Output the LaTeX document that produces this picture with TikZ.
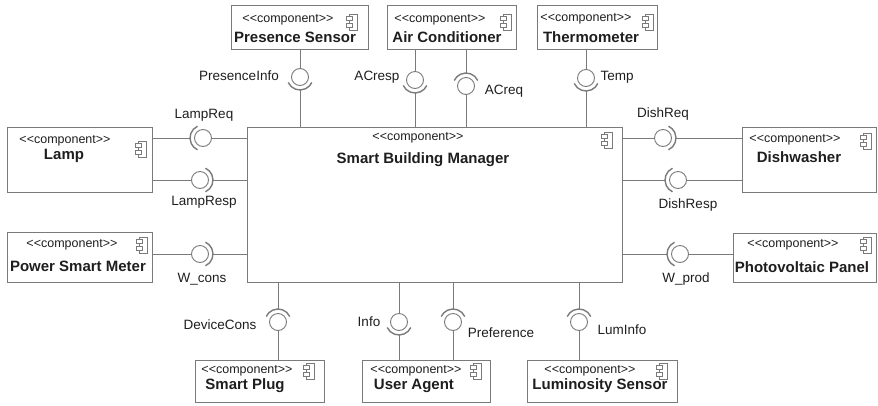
\documentclass[tikz,border=0pt]{standalone}
\usepackage{fontspec}
\setmainfont{Liberation Sans}
\usetikzlibrary{calc}
\definecolor{edge}{HTML}{7A7A7A}
\definecolor{txt}{HTML}{1E1E1E}
\newcommand{\stc}{<{}<component>{}>}
\tikzset{
  box/.style={draw=edge, line width=1pt, anchor=north west, inner sep=0pt},
  wire/.style={draw=edge, line width=0.9pt},
  ball/.style={circle, draw=edge, line width=0.9pt, minimum size=17pt, inner sep=0pt},
  sock/.style={draw=edge, line width=1.4pt},
  stereo/.style={font=\fontsize{12.5}{14}\selectfont, text=txt, inner sep=0pt},
  cname/.style={font=\bfseries\fontsize{15}{16}\selectfont, text=txt, inner sep=0pt},
  lbl/.style={font=\fontsize{13.5}{14}\selectfont, text=txt, inner sep=0pt},
  compicon/.pic={
    \draw[edge, line width=0.8pt] (-2.5pt,-8pt) rectangle (5.5pt,8pt);
    \draw[edge, line width=0.8pt, fill=white] (-5.5pt,-5.5pt) rectangle (0.5pt,-1.5pt)
                                              (-5.5pt,1.5pt) rectangle (0.5pt,5.5pt);
  }
}
\newcommand{\sockup}[1]{\draw[sock] ($(#1)+(25:13pt)$) arc[start angle=25, end angle=155, radius=13pt];}
\newcommand{\sockdown}[1]{\draw[sock] ($(#1)+(205:13pt)$) arc[start angle=205, end angle=335, radius=13pt];}
\newcommand{\sockleft}[1]{\draw[sock] ($(#1)+(115:13pt)$) arc[start angle=115, end angle=245, radius=13pt];}
\newcommand{\sockright}[1]{\draw[sock] ($(#1)+(-65:13pt)$) arc[start angle=-65, end angle=65, radius=13pt];}
\begin{document}
\begin{tikzpicture}[x=1pt, y=-1pt]
\useasboundingbox (0,0) rectangle (878,405);

% ---------- boxes ----------
\node[box, minimum width=375pt, minimum height=155pt] (main) at (247,127) {};
\node[box, minimum width=137pt, minimum height=44pt] (ps) at (231,5) {};
\node[box, minimum width=129pt, minimum height=44pt] (ac) at (387,5) {};
\node[box, minimum width=120pt, minimum height=44pt] (th) at (537,5) {};
\node[box, minimum width=145pt, minimum height=65pt] (lamp) at (7,127) {};
\node[box, minimum width=134pt, minimum height=65pt] (dish) at (742,127) {};
\node[box, minimum width=145pt, minimum height=50pt] (psm) at (7,232) {};
\node[box, minimum width=143pt, minimum height=49pt] (pv) at (733,233) {};
\node[box, minimum width=129pt, minimum height=42pt] (sp) at (195,360) {};
\node[box, minimum width=128pt, minimum height=42pt] (ua) at (362,360) {};
\node[box, minimum width=150pt, minimum height=42pt] (ls) at (527,360) {};

% ---------- box texts ----------
\node[stereo] (mainst) at (418,138) {\stc};
\node[cname] (mainnm) at (423,160) {Smart Building Manager};
\pic at (607,140) {compicon};

\node[stereo] (psst) at (288,20) {\stc};
\node[cname] (psnm) at (295,37) {Presence Sensor};
\pic at (352,22) {compicon};

\node[stereo] (acst) at (440,20) {\stc};
\node[cname] (acnm) at (447,37) {Air Conditioner};
\pic at (506,22) {compicon};

\node[stereo] (thst) at (586,19) {\stc};
\node[cname] (thnm) at (591,37) {Thermometer};
\pic at (648,22) {compicon};

\node[stereo] (lampst) at (65,141) {\stc};
\node[cname] (lampnm) at (64,156) {Lamp};
\pic at (141,149) {compicon};

\node[stereo] (dishst) at (795,140) {\stc};
\node[cname] (dishnm) at (799,157) {Dishwasher};
\pic at (866,141) {compicon};

\node[stereo] (psmst) at (72,245) {\stc};
\node[cname] (psmnm) at (78,266) {Power Smart Meter};
\pic at (142,245) {compicon};

\node[stereo] (pvst) at (793,245) {\stc};
\node[cname] (pvnm) at (802,267) {Photovoltaic Panel};
\pic at (866,245) {compicon};

\node[stereo] (spst) at (247,371) {\stc};
\node[cname] (spnm) at (245,386) {Smart Plug};
\pic at (309,371) {compicon};

\node[stereo] (uast) at (416,371) {\stc};
\node[cname] (uanm) at (414,386) {User Agent};
\pic at (476,371) {compicon};

\node[stereo] (lsst) at (590,371) {\stc};
\node[cname] (lsnm) at (600,386) {Luminosity Sensor};
\pic at (662,371) {compicon};

% ---------- interfaces: balls ----------
\node[ball] (bpi) at (300,77) {};
\node[ball] (bacr) at (415,80) {};
\node[ball] (bacq) at (466,86) {};
\node[ball] (btmp) at (586,78) {};
\node[ball] (blrq) at (203,138) {};
\node[ball] (blrs) at (200,180) {};
\node[ball] (bwc) at (200,254) {};
\node[ball] (bdrq) at (663,138) {};
\node[ball] (bdrs) at (678,180) {};
\node[ball] (bwp) at (680,254) {};
\node[ball] (bdc) at (278,322) {};
\node[ball] (binf) at (399,322) {};
\node[ball] (bpref) at (453,322) {};
\node[ball] (blum) at (579,322) {};

% socket apex coordinates
\coordinate (spi) at (300,90);
\coordinate (sacr) at (415,93);
\coordinate (sacq) at (466,73);
\coordinate (stmp) at (586,91);
\coordinate (slrq) at (190,138);
\coordinate (slrs) at (213,180);
\coordinate (swc) at (213,254);
\coordinate (sdrq) at (676,138);
\coordinate (sdrs) at (665,180);
\coordinate (swp) at (667,254);
\coordinate (sdc) at (278,309);
\coordinate (sinf) at (399,335);
\coordinate (spref) at (453,309);
\coordinate (slum) at (579,309);

% sockets
\sockdown{bpi}
\sockdown{bacr}
\sockup{bacq}
\sockdown{btmp}
\sockleft{blrq}
\sockright{blrs}
\sockright{bwc}
\sockright{bdrq}
\sockleft{bdrs}
\sockleft{bwp}
\sockup{bdc}
\sockdown{binf}
\sockup{bpref}
\sockup{blum}

% ---------- connectors ----------
% top
\draw[wire] (bpi.north) -- (bpi |- ps.south);
\draw[wire] (spi) -- (spi |- main.north);
\draw[wire] (bacr.north) -- (bacr |- ac.south);
\draw[wire] (sacr) -- (sacr |- main.north);
\draw[wire] (sacq) -- (sacq |- ac.south);
\draw[wire] (bacq.south) -- (bacq |- main.north);
\draw[wire] (btmp.north) -- (btmp |- th.south);
\draw[wire] (stmp) -- (stmp |- main.north);
% left
\draw[wire] (slrq) -- (slrq -| lamp.east);
\draw[wire] (blrq.east) -- (blrq -| main.west);
\draw[wire] (blrs.west) -- (blrs -| lamp.east);
\draw[wire] (slrs) -- (slrs -| main.west);
\draw[wire] (bwc.west) -- (bwc -| psm.east);
\draw[wire] (swc) -- (swc -| main.west);
% right
\draw[wire] (bdrq.west) -- (bdrq -| main.east);
\draw[wire] (sdrq) -- (sdrq -| dish.west);
\draw[wire] (sdrs) -- (sdrs -| main.east);
\draw[wire] (bdrs.east) -- (bdrs -| dish.west);
\draw[wire] (swp) -- (swp -| main.east);
\draw[wire] (bwp.east) -- (bwp -| pv.west);
% bottom
\draw[wire] (sdc) -- (sdc |- main.south);
\draw[wire] (bdc.south) -- (bdc |- sp.north);
\draw[wire] (binf.north) -- (binf |- main.south);
\draw[wire] (sinf) -- (sinf |- ua.north);
\draw[wire] (spref) -- (spref |- main.south);
\draw[wire] (bpref.south) -- (bpref |- ua.north);
\draw[wire] (slum) -- (slum |- main.south);
\draw[wire] (blum.south) -- (blum |- ls.north);

% ---------- labels ----------
\node[lbl] (lpi) at (239,76) {PresenceInfo};
\node[lbl] (lacr) at (377,77) {ACresp};
\node[lbl] (lacq) at (504,91) {ACreq};
\node[lbl] (ltmp) at (617,77) {Temp};
\node[lbl] (llrq) at (204,115) {LampReq};
\node[lbl] (llrs) at (204,202) {LampResp};
\node[lbl] (lwc) at (202,279) {W\_cons};
\node[lbl] (ldrq) at (663,114) {DishReq};
\node[lbl] (ldrs) at (688,205) {DishResp};
\node[lbl] (lwp) at (686,279) {W\_prod};
\node[lbl] (ldc) at (220,325) {DeviceCons};
\node[lbl] (linf) at (369,322) {Info};
\node[lbl] (lpref) at (501,333) {Preference};
\node[lbl] (llum) at (622,330) {LumInfo};
\end{tikzpicture}
\end{document}
